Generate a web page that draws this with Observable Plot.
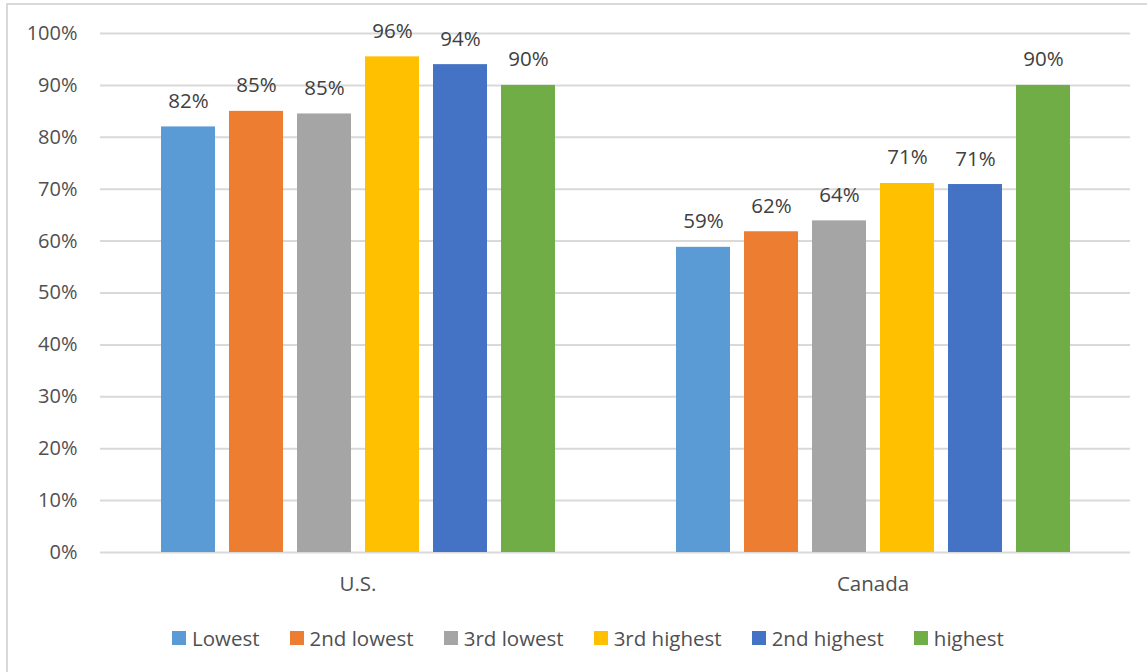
<!DOCTYPE html>
<html>
<head>
<meta charset="utf-8">
<script src="https://cdn.jsdelivr.net/npm/d3@7"></script>
<script src="https://cdn.jsdelivr.net/npm/@observablehq/plot@0.6"></script>
<style>
  html, body { margin: 0; padding: 0; background: #fff; overflow: hidden; }
  body { width: 1147px; height: 672px; position: relative; font-family: "Open Sans", "Liberation Sans", sans-serif; }
  #frame { position: absolute; left: 6px; top: 3px; width: 1160px; height: 690px; border: 2px solid #d9d9d9; box-sizing: border-box; }
  #chart { position: absolute; left: 0; top: 0; }
  #legend { position: absolute; left: 172px; top: 624px; display: flex; align-items: center; font-size: 20.5px; color: #505050; white-space: nowrap; }
  #legend .item { display: flex; align-items: center; margin-right: 30px; }
  #legend .sw { width: 14px; height: 14px; margin-right: 6px; }
</style>
</head>
<body>
<div id="frame"></div>
<div id="chart"></div>
<div id="legend"></div>
<script>
const countries = ["U.S.", "Canada"];
const categories = ["Lowest", "2nd lowest", "3rd lowest", "3rd highest", "2nd highest", "highest"];
const usValues = [82.0, 85.0, 84.5, 95.5, 94.0, 90.0];
const canadaValues = [58.8, 61.8, 63.9, 71.1, 70.9, 90.0];
const colors = ["#5B9BD5", "#ED7D31", "#A5A5A5", "#FFC000", "#4472C4", "#70AD47"];
const yTicks = [0, 10, 20, 30, 40, 50, 60, 70, 80, 90, 100];

const data = [];
categories.forEach((c, i) => data.push({country: "U.S.", category: c, value: usValues[i]}));
categories.forEach((c, i) => data.push({country: "Canada", category: c, value: canadaValues[i]}));

const font = '"Open Sans", "Liberation Sans", sans-serif';

const chart = Plot.plot({
  width: 1147,
  height: 605,
  marginLeft: 100,
  marginRight: 17,
  marginTop: 33,
  marginBottom: 53,
  style: {fontFamily: font, fontSize: "20px", color: "#505050", background: "transparent"},
  fx: {domain: countries, padding: 0, label: null},
  x: {domain: categories, paddingInner: 0.213, paddingOuter: 0.86, axis: null},
  y: {domain: [0, 100], label: null},
  color: {domain: categories, range: colors},
  marks: [
    Plot.ruleY(yTicks, {stroke: "#d9d9d9", strokeWidth: 2}),
    Plot.barY(data, {fx: "country", x: "category", y: "value", fill: "category"}),
    Plot.text(data, {fx: "country", x: "category", y: "value", text: d => Math.round(d.value) + "%", lineAnchor: "bottom", dy: -19, fill: "#404040", fontSize: 20.5}),
    Plot.axisY({ticks: yTicks, tickFormat: d => d + "%", tickSize: 0, tickPadding: 23, fontSize: 20, label: null}),
    Plot.axisFx({anchor: "bottom", tickSize: 0, tickPadding: 24, fontSize: 20.5, label: null})
  ]
});
document.getElementById("chart").appendChild(chart);

const legend = document.getElementById("legend");
categories.forEach((c, i) => {
  const item = document.createElement("div");
  item.className = "item";
  const sw = document.createElement("span");
  sw.className = "sw";
  sw.style.background = colors[i];
  const lab = document.createElement("span");
  lab.textContent = c;
  item.appendChild(sw);
  item.appendChild(lab);
  legend.appendChild(item);
});
</script>
</body>
</html>
